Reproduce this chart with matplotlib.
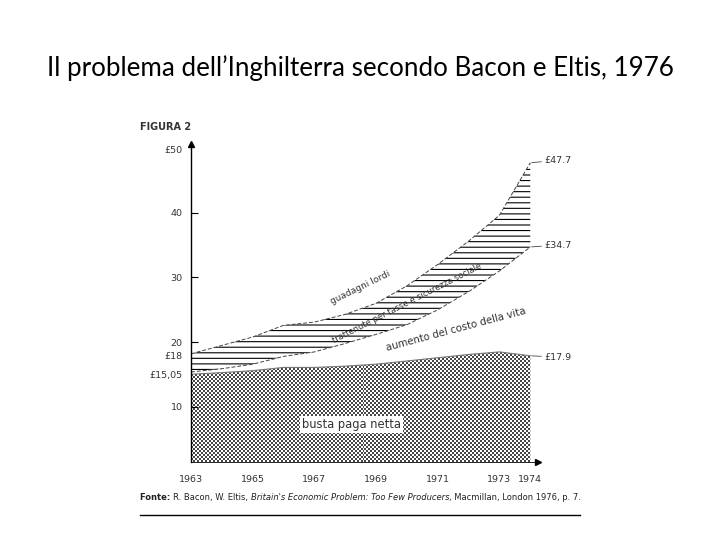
import numpy as np
import matplotlib.pyplot as plt
from matplotlib.lines import Line2D
from matplotlib.colors import ListedColormap
import matplotlib.transforms as mtransforms

plt.rcParams['hatch.linewidth'] = 0.8

# dati (sterline a settimana)
anni = [1963, 1964, 1965, 1966, 1967, 1968, 1969, 1970, 1971, 1972, 1973, 1974]
guadagni_lordi = [18.2, 19.5, 20.8, 22.6, 23.1, 24.3, 26.0, 28.7, 32.0, 35.6, 39.6, 47.7]
dopo_tasse = [15.4, 15.9, 16.6, 17.8, 18.5, 19.8, 21.2, 22.7, 25.0, 27.8, 31.0, 34.7]
busta_paga = [15.05, 15.3, 15.6, 16.1, 16.1, 16.3, 16.6, 17.1, 17.6, 18.1, 18.5, 17.9]

anni_tick = [1963, 1965, 1967, 1969, 1971, 1973, 1974]
y_tick = [10, 15.05, 18, 20, 30, 40]
y_tick_lab = ['10', '£15,05', '£18', '20', '30', '40']
etichette_fine = ['£47.7', '£34.7', '£17.9']

titolo = "Il problema dell\u2019Inghilterra secondo Bacon e Eltis, 1976"
font_fig = ['DejaVu Sans']
grigio = '#333333'
fs = 6.8

fig = plt.figure(figsize=(7.2, 5.4), dpi=100)
fig.text(0.5, 1 - 68 / 540, titolo, ha='center', va='center', fontsize=18.7,
         family=['Lato', 'DejaVu Sans'])

ax = fig.add_axes([191 / 720, (540 - 462) / 540, (538 - 191) / 720, (462 - 144) / 540])
xlim = (1963, 1974.25)
ylim = (1.5, 50.6)

# area busta paga netta (retino a puntini)
area = ax.fill_between(anni, ylim[0], busta_paga, facecolor='none', linewidth=0)
retino = np.add.outer(np.arange(159), np.arange(174)) % 2
im = ax.imshow(retino, cmap=ListedColormap(['white', '#474747']), origin='lower',
               extent=(*xlim, *ylim), aspect='auto', interpolation='nearest')
im.set_clip_path(area.get_paths()[0], transform=ax.transData)
ax.plot(anni, busta_paga, color='#777777', lw=0.8)

# area trattenute (tratteggio orizzontale)
ax.fill_between(anni, dopo_tasse, guadagni_lordi, facecolor='white', edgecolor='black',
                hatch='---', linewidth=0)
ax.plot(anni, guadagni_lordi, color='#444444', lw=0.7, dashes=(4, 2))
ax.plot(anni, dopo_tasse, color='#444444', lw=0.7, dashes=(4, 2))

ax.set_xlim(*xlim)
ax.set_ylim(*ylim)

for sp in ['top', 'right']:
    ax.spines[sp].set_visible(False)
ax.spines['left'].set_linewidth(1.0)
ax.spines['bottom'].set_linewidth(0.6)
ax.plot([0], [1], marker='^', ms=5, color='black', transform=ax.transAxes, clip_on=False)
ax.plot([1], [0], marker='>', ms=4, color='black', transform=ax.transAxes, clip_on=False)

ax.set_yticks(y_tick)
ax.set_yticklabels(y_tick_lab, fontsize=fs, color=grigio, family=font_fig)
ax.tick_params(axis='y', direction='in', length=5, width=0.8, pad=6)
for i, t in enumerate(ax.yaxis.get_major_ticks()):
    if y_tick[i] in (15.05, 18):
        t.tick1line.set_visible(False)

ax.set_xticks(anni_tick)
ax.set_xticklabels([str(a) for a in anni_tick], fontsize=fs, color=grigio, family=font_fig)
ax.tick_params(axis='x', length=0, pad=9)

trans = mtransforms.blended_transform_factory(ax.transAxes, ax.transData)
ax.text(-0.025, 50.3, '£50', transform=trans, ha='right', va='top', fontsize=fs,
        color=grigio, family=font_fig)

# etichette valori finali
fine = [guadagni_lordi[-1], dopo_tasse[-1], busta_paga[-1]]
spost = [(1974.45, 0.4), (1974.45, 0.3), (1974.45, -0.2)]
for lab, v, (xt, dy) in zip(etichette_fine, fine, spost):
    ax.annotate(lab, xy=(anni[-1], v), xytext=(xt, v + dy), ha='left', va='center',
                fontsize=fs, color=grigio, family=font_fig, annotation_clip=False,
                arrowprops=dict(arrowstyle='-', lw=0.6, color='#444444',
                                shrinkA=0, shrinkB=1))

# testi dentro il grafico
ax.text(1968.5, 28.5, 'guadagni lordi', rotation=26, ha='center', va='center',
        rotation_mode='anchor', fontsize=6.5, color=grigio, family=font_fig)
ax.text(1970.0, 26.0, 'trattenute per tasse e sicurezza sociale', rotation=27,
        ha='center', va='center', rotation_mode='anchor', fontsize=6.0, color=grigio,
        family=font_fig)
ax.text(1971.6, 21.9, 'aumento del costo della vita', rotation=15, ha='center',
        va='center', rotation_mode='anchor', fontsize=7.3, color=grigio, family=font_fig)
ax.text(1968.2, 7.3, 'busta paga netta', ha='center', va='center', fontsize=8.3,
        color=grigio, family=font_fig,
        bbox=dict(facecolor='white', edgecolor='none', pad=1.5))

fig.text(140 / 720, 1 - 127 / 540, 'FIGURA 2', ha='left', va='center', fontsize=7,
         weight='bold', color=grigio, family=font_fig)

# fonte
parti = [('Fonte: ', 'bold', 'normal'),
         ('R. Bacon, W. Eltis, ', 'normal', 'normal'),
         ("Britain's Economic Problem: Too Few Producers", 'normal', 'italic'),
         (', Macmillan, London 1976, p. 7.', 'normal', 'normal')]
prec = fig.text(140 / 720, 1 - 502 / 540, parti[0][0], ha='left', va='bottom',
                fontsize=6.0, weight=parti[0][1], style=parti[0][2], color='#222222',
                family=font_fig)
for testo, peso, stile in parti[1:]:
    prec = ax.annotate(testo, xy=(1, 0), xycoords=prec, ha='left', va='bottom',
                       fontsize=6.0, weight=peso, style=stile, color='#222222',
                       family=font_fig, annotation_clip=False)

fig.add_artist(Line2D([140 / 720, 580 / 720], [1 - 515 / 540] * 2, color='black', lw=1))

fig.savefig('out.png', dpi=100)
